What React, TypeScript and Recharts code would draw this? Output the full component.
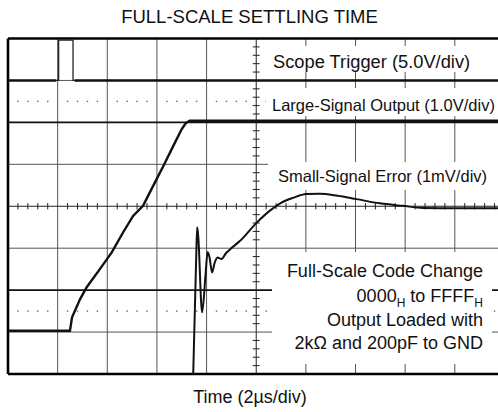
import React from 'react';
import { ComposedChart, XAxis, YAxis, Line, Scatter, ReferenceLine } from 'recharts';

// scope screen: x in divisions (2us/div), y in divisions from the centre line
const gridX = [1, 2, 3, 4, 6, 7, 8, 9];
const gridYThin = [3, 1, -1, -3];
const gridYBold = [2, -2];
const dottedY = [2.5, -2.5];

const triggerBase = [
  { x: 0, y: 3 }, { x: 0.97, y: 3 }, { x: 1.15, y: null }, { x: 1.34, y: 3 }, { x: 9.87, y: 3 },
];
const triggerPulse = [
  { x: 0.97, y: 3 }, { x: 1.02, y: 3 }, { x: 1.02, y: 3.96 }, { x: 1.31, y: 3.96 },
  { x: 1.31, y: 3 }, { x: 1.34, y: 3 },
];
const largeSignal = [
  { x: 0, y: -2.97 }, { x: 1.248, y: -2.97 }, { x: 1.29, y: -2.65 }, { x: 1.45, y: -2.22 },
  { x: 1.585, y: -1.93 }, { x: 1.85, y: -1.5 }, { x: 2.09, y: -1.1 }, { x: 2.32, y: -0.62 },
  { x: 2.52, y: -0.23 }, { x: 2.72, y: 0.01 }, { x: 2.96, y: 0.57 }, { x: 3.13, y: 0.96 },
  { x: 3.33, y: 1.44 }, { x: 3.5, y: 1.84 }, { x: 3.58, y: 1.98 }, { x: 3.66, y: 2.04 },
  { x: 9.87, y: 2.04 },
];
const smallSignal = [
  { x: 3.73, y: -4.03 }, { x: 3.79, y: -1.26 }, { x: 3.81, y: -0.5 }, { x: 3.83, y: -0.69 },
  { x: 3.91, y: -2.53 }, { x: 3.98, y: -1.62 }, { x: 4.02, y: -1.09 }, { x: 4.06, y: -1.22 },
  { x: 4.11, y: -1.58 }, { x: 4.16, y: -1.36 }, { x: 4.22, y: -1.22 }, { x: 4.3, y: -1.26 },
  { x: 4.39, y: -1.12 }, { x: 4.47, y: -1.03 }, { x: 4.67, y: -0.83 }, { x: 5.01, y: -0.39 },
  { x: 5.27, y: -0.11 }, { x: 5.5, y: 0.08 }, { x: 5.74, y: 0.2 }, { x: 6.01, y: 0.29 },
  { x: 6.28, y: 0.3 }, { x: 6.64, y: 0.25 }, { x: 7.02, y: 0.17 }, { x: 7.49, y: 0.07 },
  { x: 7.95, y: 0.01 }, { x: 8.36, y: -0.04 }, { x: 9.1, y: -0.05 }, { x: 9.87, y: -0.05 },
];

const title = 'FULL-SCALE SETTLING TIME';
const xLabel = 'Time (2µs/div)';
const traceLabels = ['Scope Trigger (5.0V/div)', 'Large-Signal Output (1.0V/div)', 'Small-Signal Error (1mV/div)'];

// minor ticks, 5 per division
const minorX = Array.from({ length: 49 }, (_, i) => +((i + 1) * 0.2).toFixed(1)).filter(v => v % 1 !== 0);
const minorY = Array.from({ length: 39 }, (_, i) => +(-4 + (i + 1) * 0.2).toFixed(1)).filter(v => v % 1 !== 0);
const dots = dottedY.flatMap(y => minorX.map(x => ({ x, y })));

const font = '"Liberation Sans", Arial, Helvetica, sans-serif';

export default function App() {
  return (
    <div style={{ position: 'absolute', left: 0, top: 0, width: 498, height: 412, background: '#fff' }}>
      <ComposedChart width={498} height={412} margin={{ top: 38.5, right: 0, bottom: 38, left: 8 }}>
        <XAxis dataKey="x" type="number" domain={[0, 9.87]} allowDataOverflow hide />
        <YAxis dataKey="y" type="number" domain={[-4, 4]} allowDataOverflow hide />
        {gridX.map(x => (
          <ReferenceLine key={'gx' + x} x={x} stroke="#555" strokeWidth={1} zIndex={-50} />
        ))}
        {gridYThin.map(y => (
          <ReferenceLine key={'gy' + y} y={y} stroke="#555" strokeWidth={1} zIndex={-50} />
        ))}
        {gridYBold.map(y => (
          <ReferenceLine key={'gb' + y} y={y} stroke="#111" strokeWidth={1.8} zIndex={-50} />
        ))}
        <ReferenceLine x={5} stroke="#222" strokeWidth={1} zIndex={-50} />
        <ReferenceLine y={0} stroke="#222" strokeWidth={1} zIndex={-50} />
        {minorX.map(t => (
          <ReferenceLine key={'tx' + t} segment={[{ x: t, y: -0.075 }, { x: t, y: 0.075 }]} stroke="#222" strokeWidth={1} zIndex={-50} />
        ))}
        {minorY.map(t => (
          <ReferenceLine key={'ty' + t} segment={[{ x: 4.93, y: t }, { x: 5.07, y: t }]} stroke="#222" strokeWidth={1} zIndex={-50} />
        ))}
        <Scatter
          data={dots}
          dataKey="y"
          isAnimationActive={false}
          zIndex={-40}
          shape={(p: any) => <rect x={p.cx - 0.7} y={p.cy - 0.7} width={1.4} height={1.4} fill="#666" />}
        />
        <ReferenceLine x={0} stroke="#000" strokeWidth={2.6} zIndex={-30} />
        <ReferenceLine y={4} stroke="#000" strokeWidth={2.6} zIndex={-30} />
        <ReferenceLine y={-4} stroke="#000" strokeWidth={2.6} zIndex={-30} />
        <Line data={triggerPulse} dataKey="y" type="linear" stroke="#222" strokeWidth={1.3} dot={false} isAnimationActive={false} zIndex={500} />
        <Line data={triggerBase} dataKey="y" type="linear" stroke="#111" strokeWidth={2.6} dot={false} connectNulls={false} isAnimationActive={false} zIndex={500} />
        <Line data={largeSignal} dataKey="y" type="linear" stroke="#111" strokeWidth={2.4} dot={false} isAnimationActive={false} zIndex={500} />
        <Line data={smallSignal} dataKey="y" type="monotone" stroke="#111" strokeWidth={2} dot={false} isAnimationActive={false} zIndex={500} />
      </ComposedChart>
      <svg width={498} height={412} style={{ position: 'absolute', left: 0, top: 0, pointerEvents: 'none' }} fontFamily={font} fill="#111">
        <text x={249.5} y={22.5} textAnchor="middle" fontSize={18.5}>{title}</text>
        <text x={250} y={403} textAnchor="middle" fontSize={18}>{xLabel}</text>

        <rect x={268} y={46} width={230} height={26} fill="#fff" />
        <text x={273} y={67.5} fontSize={18.3}>{traceLabels[0]}</text>
        <rect x={266} y={88} width={232} height={28} fill="#fff" />
        <text x={272} y={111} fontSize={16.5}>{traceLabels[1]}</text>
        <rect x={268} y={162} width={230} height={28} fill="#fff" />
        <text x={278} y={182} fontSize={16.5}>{traceLabels[2]}</text>

        <rect x={272} y={252} width={220} height={112} fill="#fff" />
        <g textAnchor="end" fontSize={18}>
          <text x={483} y={277}>Full-Scale Code Change</text>
          <text x={483} y={301.5}>
            0000<tspan dy={5} fontSize={12}>H</tspan><tspan dy={-5}> to FFFF</tspan><tspan dy={5} fontSize={12}>H</tspan>
          </text>
          <text x={483} y={325.7}>Output Loaded with</text>
          <text x={483} y={349}>2kΩ and 200pF to GND</text>
        </g>
      </svg>
    </div>
  );
}
